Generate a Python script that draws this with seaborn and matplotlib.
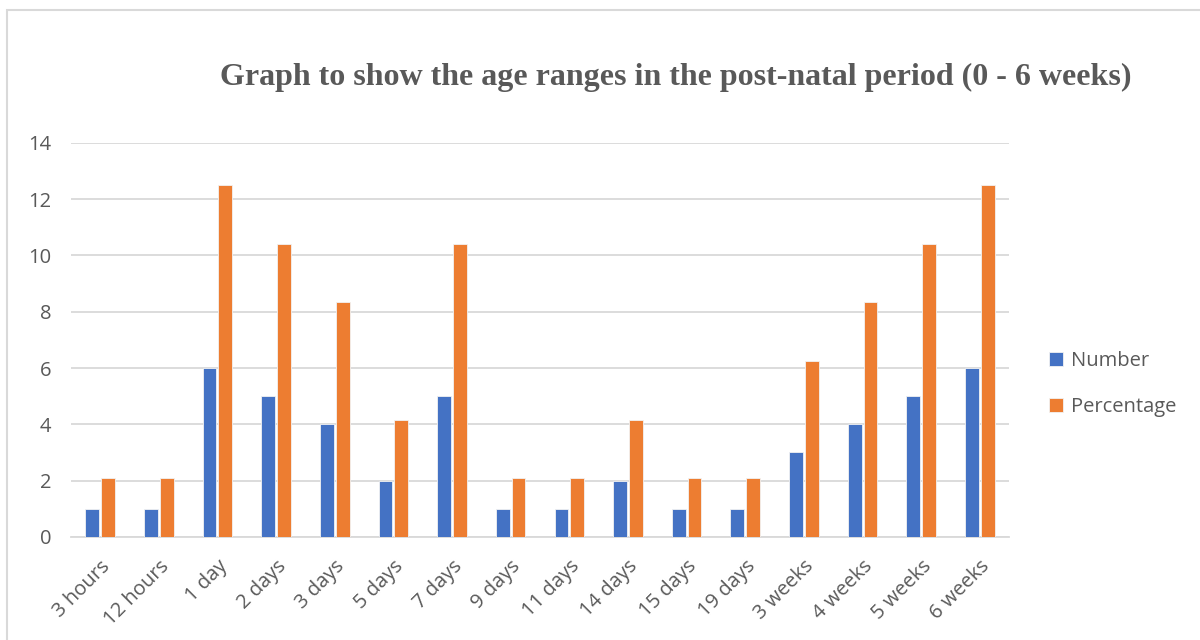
import matplotlib
matplotlib.use("Agg")
import matplotlib.pyplot as plt
import seaborn as sns
import pandas as pd

categories = ["3 hours", "12 hours", "1 day", "2 days", "3 days", "5 days", "7 days",
              "9 days", "11 days", "14 days", "15 days", "19 days", "3 weeks",
              "4 weeks", "5 weeks", "6 weeks"]
number = [1, 1, 6, 5, 4, 2, 5, 1, 1, 2, 1, 1, 3, 4, 5, 6]
percentage = [2.08, 2.08, 12.5, 10.42, 8.33, 4.17, 10.42, 2.08, 2.08, 4.17,
              2.08, 2.08, 6.25, 8.33, 10.42, 12.5]
y_ticks = [0, 2, 4, 6, 8, 10, 12, 14]

df = pd.DataFrame({
    "age": categories * 2,
    "value": number + percentage,
    "series": ["Number"] * len(categories) + ["Percentage"] * len(categories),
})

sns.set_style("white")
plt.rcParams["font.family"] = ["Open Sans", "DejaVu Sans"]

text_color = "#595959"
grid_color = "#D9D9D9"

fig = plt.figure(figsize=(12, 6.4), dpi=100)
ax = fig.add_axes([0.059, 0.161, 0.782, 0.616])

sns.barplot(data=df, x="age", y="value", hue="series", order=categories,
            palette={"Number": "#4472C4", "Percentage": "#ED7D31"},
            saturation=1, width=0.54, gap=0.13, edgecolor="#F2F2F2", linewidth=0.6,
            ax=ax, zorder=3)

ax.set_ylim(0, 14)
ax.set_yticks(y_ticks)
ax.set_xlim(-0.5, len(categories) - 0.5)
ax.yaxis.grid(True, color=grid_color, linewidth=1.3, zorder=0)
ax.set_axisbelow(True)
for side in ["top", "right", "left"]:
    ax.spines[side].set_visible(False)
ax.spines["bottom"].set_color(grid_color)
ax.spines["bottom"].set_linewidth(1.3)
ax.set_xlabel("")
ax.set_ylabel("")
ax.tick_params(axis="both", length=0, labelsize=14.5, colors=text_color)
ax.tick_params(axis="y", pad=14)
ax.tick_params(axis="x", pad=14)
plt.setp(ax.get_xticklabels(), rotation=45, ha="right", rotation_mode="anchor")

handles, labels = ax.get_legend_handles_labels()
ax.legend_.remove()
fig.legend(handles, labels, loc="center left", bbox_to_anchor=(0.859, 0.400),
           frameon=False, fontsize=14.5, labelcolor=text_color,
           handlelength=0.7, handleheight=0.7, handletextpad=0.4,
           labelspacing=1.3)

fig.text(0.563, 0.879, "Graph to show the age ranges in the post-natal period (0 - 6 weeks)",
         ha="center", va="center", fontsize=23, fontweight="bold",
         color=text_color, family=["Liberation Serif", "DejaVu Serif"])

# outer chart frame
frame = plt.Rectangle((0.006, -0.02), 1.02, 1.004, transform=fig.transFigure,
                      fill=False, edgecolor="#D9D9D9", linewidth=1.5)
fig.patches.append(frame)

fig.savefig("out.png", dpi=100, facecolor="white")
